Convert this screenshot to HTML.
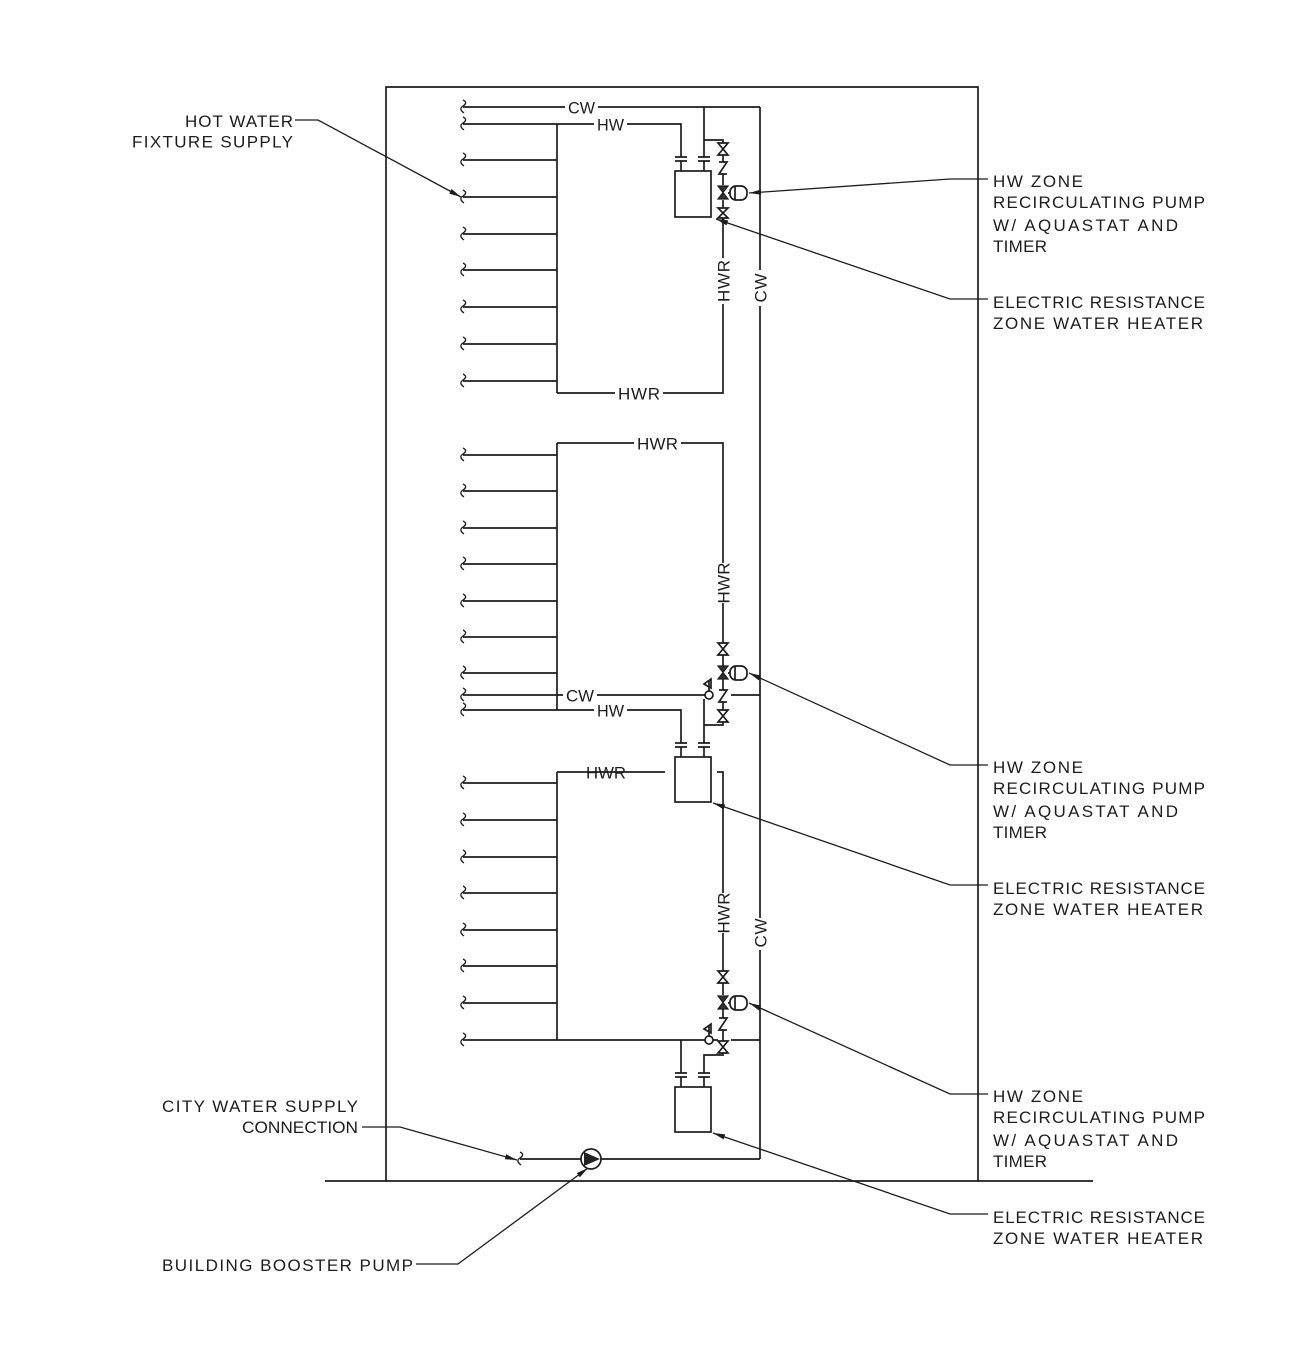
<!DOCTYPE html>
<html><head><meta charset="utf-8">
<style>
html,body{margin:0;padding:0;background:#fff;}
svg{display:block;}
.t{font-family:"Liberation Sans",Arial,sans-serif;font-size:17px;fill:#1c1c1c;}
.p{fill:none;stroke:#1c1c1c;stroke-width:1.7;}
.l{fill:none;stroke:#1c1c1c;stroke-width:1.3;}
</style></head>
<body>
<svg width="1304" height="1361" viewBox="0 0 1304 1361" xmlns="http://www.w3.org/2000/svg">
<defs>
<marker id="ah" markerUnits="userSpaceOnUse" markerWidth="16" markerHeight="10" viewBox="-1 -5 16 10" refX="0" refY="0" orient="auto" overflow="visible">
<path d="M0,0 L12,-2.6 L12,2.6 Z" fill="#1c1c1c"/>
</marker>
<path id="sq" d="M1,-7 c4,2 3,4 0,6 c-3,2 -3,4 1,7" fill="none" stroke="#1c1c1c" stroke-width="1.3"/>
</defs>
<rect x="0" y="0" width="1304" height="1361" fill="#fff"/>

<!-- building outline & ground -->
<path class="p" d="M386,1181 V87 H978 V1181" stroke-width="1.8"/>
<path class="p" d="M325,1181 H1093" stroke-width="1.8"/>

<!-- ================= TOP ZONE ================= -->
<path class="p" d="M463,107 H565 M598,107 H760
 M463,124 H594 M627,124 H681 V157
 M557,124 V393
 M463,160H557 M463,197H557 M463,234H557 M463,270H557 M463,307H557 M463,344H557 M463,381H557
 M557,393 H615 M663,393 H723 V304 M723,258 V221
 M704,107 V157 M704,140 H723 V143
 M723,155 V162 M723,174 V185 M723,200 V208 M723,218 V221
 M760,107 V270 M760,306 V918 M760,950 V1159"/>
<!-- flanges top heater -->
<path class="p" d="M675,157 H687 M675,161 H687 M681,161 V171 M698,157 H710 M698,161 H710 M704,161 V171"/>
<rect class="p" x="675" y="171" width="36" height="46"/>
<!-- valves top -->
<path class="p" d="M718,143 L728,143 L718,155 L728,155 Z"/>
<path class="p" d="M719,162 H727 L719,174 H727"/>
<path d="M718,186 L728,186 L718,199 L728,199 Z" fill="#333" stroke="#1c1c1c" stroke-width="1.2"/>
<rect class="p" x="730" y="186" width="17" height="14" rx="6"/>
<path class="p" d="M728,193 H730 M735,186 V200"/>
<path class="p" d="M718,208 L728,208 L718,218 L728,218 Z"/>
<circle cx="723" cy="221" r="2.2" fill="#1c1c1c"/>

<use href="#sq" x="462" y="107"/><use href="#sq" x="462" y="124"/>
<use href="#sq" x="462" y="160"/><use href="#sq" x="462" y="197"/><use href="#sq" x="462" y="234"/>
<use href="#sq" x="462" y="270"/><use href="#sq" x="462" y="307"/><use href="#sq" x="462" y="344"/><use href="#sq" x="462" y="381"/>

<text class="t" x="568" y="113.5" textLength="27" lengthAdjust="spacingAndGlyphs">CW</text>
<text class="t" x="597" y="130.5" textLength="27" lengthAdjust="spacingAndGlyphs">HW</text>
<text class="t" x="618" y="399.5" textLength="42" lengthAdjust="spacing">HWR</text>
<text class="t" transform="translate(723,281) rotate(-90)" x="0" y="6.5" text-anchor="middle" textLength="42" lengthAdjust="spacing">HWR</text>
<text class="t" transform="translate(760,288) rotate(-90)" x="0" y="6.5" text-anchor="middle" textLength="29" lengthAdjust="spacing">CW</text>

<!-- ================= MIDDLE ZONE ================= -->
<path class="p" d="M557,443 H634 M681,443 H723 V563 M723,603 V643
 M557,443 V710
 M463,455H557 M463,491H557 M463,528H557 M463,564H557 M463,601H557 M463,637H557 M463,673H557
 M463,695 H563 M597,695 H705 M731,695 H760
 M463,710 H594 M627,710 H681 V743
 M704,699 V743 M704,725 H723 V722
 M723,655 V666 M723,678 V690 M723,702 V710"/>
<circle class="p" cx="709" cy="695" r="4"/>
<path class="p" d="M709,691 V680 M711,679 L711,688 L704,684 Z" stroke-width="1.2"/>
<path class="p" d="M718,643 L728,643 L718,655 L728,655 Z"/>
<path d="M718,666 L728,666 L718,679 L728,679 Z" fill="#333" stroke="#1c1c1c" stroke-width="1.2"/>
<rect class="p" x="730" y="666" width="17" height="14" rx="6"/>
<path class="p" d="M728,673 H730 M735,666 V680"/>
<path class="p" d="M719,690 H727 L719,702 H727"/>
<path class="p" d="M718,710 L728,710 L718,722 L728,722 Z"/>
<!-- middle heater -->
<path class="p" d="M675,743 H687 M675,747 H687 M681,747 V757 M698,743 H710 M698,747 H710 M704,747 V757"/>
<rect class="p" x="675" y="757" width="36" height="45"/>
<path class="p" d="M557,772 H665 M717,772 H723 V893 M723,933 V971"/>

<use href="#sq" x="462" y="455"/><use href="#sq" x="462" y="491"/><use href="#sq" x="462" y="528"/>
<use href="#sq" x="462" y="564"/><use href="#sq" x="462" y="601"/><use href="#sq" x="462" y="637"/><use href="#sq" x="462" y="673"/>
<use href="#sq" x="462" y="695"/><use href="#sq" x="462" y="710"/>

<text class="t" x="637" y="449.5" textLength="41" lengthAdjust="spacing">HWR</text>
<text class="t" transform="translate(723,583) rotate(-90)" x="0" y="6.5" text-anchor="middle" textLength="41" lengthAdjust="spacing">HWR</text>
<text class="t" x="566" y="701.5" textLength="28" lengthAdjust="spacingAndGlyphs">CW</text>
<text class="t" x="597" y="716.5" textLength="27" lengthAdjust="spacingAndGlyphs">HW</text>
<text class="t" x="586" y="778.5" textLength="40" lengthAdjust="spacingAndGlyphs">HWR</text>

<!-- ================= BOTTOM ZONE ================= -->
<path class="p" d="M557,772 V1040
 M463,783H557 M463,820H557 M463,857H557 M463,893H557 M463,930H557 M463,966H557 M463,1003H557
 M463,1040 H705 M713,1040 H718 M731,1040 H760
 M723,983 V995 M723,1009 V1018 M723,1030 V1041
 M681,1040 V1073 M723,1053 V1055 H704 V1073"/>
<circle class="p" cx="709" cy="1040" r="4"/>
<path class="p" d="M709,1036 V1025 M711,1024 L711,1033 L704,1029 Z" stroke-width="1.2"/>
<path class="p" d="M718,971 L728,971 L718,983 L728,983 Z"/>
<path d="M718,996 L728,996 L718,1009 L728,1009 Z" fill="#333" stroke="#1c1c1c" stroke-width="1.2"/>
<rect class="p" x="730" y="996" width="17" height="14" rx="6"/>
<path class="p" d="M728,1003 H730 M735,996 V1010"/>
<path class="p" d="M719,1018 H727 L719,1030 H727"/>
<path class="p" d="M718,1041 L728,1041 L718,1053 L728,1053 Z"/>
<path class="p" d="M675,1073 H687 M675,1077 H687 M681,1077 V1087 M698,1073 H710 M698,1077 H710 M704,1077 V1087"/>
<rect class="p" x="675" y="1087" width="36" height="45"/>

<use href="#sq" x="462" y="783"/><use href="#sq" x="462" y="820"/><use href="#sq" x="462" y="857"/>
<use href="#sq" x="462" y="893"/><use href="#sq" x="462" y="930"/><use href="#sq" x="462" y="966"/>
<use href="#sq" x="462" y="1003"/><use href="#sq" x="462" y="1040"/>

<text class="t" transform="translate(723,913) rotate(-90)" x="0" y="6.5" text-anchor="middle" textLength="41" lengthAdjust="spacing">HWR</text>
<text class="t" transform="translate(760,933) rotate(-90)" x="0" y="6.5" text-anchor="middle" textLength="29" lengthAdjust="spacing">CW</text>

<!-- city water & booster pump -->
<use href="#sq" x="519" y="1159"/>
<path class="p" d="M520,1159 H581 M601,1159 H760"/>
<circle class="p" cx="591" cy="1159" r="10"/>
<path d="M584,1152 L584,1166 L600,1159 Z" fill="#222"/>

<!-- ================= LEADERS ================= -->
<g class="l">
<polyline points="461,197 318,120 295,120" marker-start="url(#ah)"/>
<polyline points="517,1160 400,1127 362,1127" marker-start="url(#ah)"/>
<polyline points="588,1168 458,1264 416,1264" marker-start="url(#ah)"/>

<polyline points="749,193 950,179 988,179" marker-start="url(#ah)"/>
<polyline points="716,219 950,299 988,299" marker-start="url(#ah)"/>
<polyline points="749,673 950,765 988,765" marker-start="url(#ah)"/>
<polyline points="713,803 950,885 988,885" marker-start="url(#ah)"/>
<polyline points="749,1003 950,1094 988,1094" marker-start="url(#ah)"/>
<polyline points="713,1133 950,1214 988,1214" marker-start="url(#ah)"/>
</g>

<!-- ================= LABELS ================= -->
<text class="t" x="185" y="127" textLength="108" lengthAdjust="spacing">HOT  WATER</text>
<text class="t" x="132" y="147.5" textLength="161" lengthAdjust="spacing">FIXTURE  SUPPLY</text>
<text class="t" x="162" y="1112" textLength="196" lengthAdjust="spacing">CITY  WATER  SUPPLY</text>
<text class="t" x="242" y="1133" textLength="116" lengthAdjust="spacingAndGlyphs">CONNECTION</text>
<text class="t" x="162" y="1271" textLength="251" lengthAdjust="spacing">BUILDING  BOOSTER  PUMP</text>

<g>
<text class="t" x="993" y="187" textLength="90" lengthAdjust="spacing">HW  ZONE</text>
<text class="t" x="993" y="208" textLength="212" lengthAdjust="spacing">RECIRCULATING  PUMP</text>
<text class="t" x="993" y="231" textLength="185" lengthAdjust="spacing">W/  AQUASTAT  AND</text>
<text class="t" x="993" y="252" textLength="54" lengthAdjust="spacing">TIMER</text>
<text class="t" x="993" y="308" textLength="212" lengthAdjust="spacing">ELECTRIC  RESISTANCE</text>
<text class="t" x="993" y="329" textLength="210" lengthAdjust="spacing">ZONE  WATER  HEATER</text>
</g>
<g>
<text class="t" x="993" y="773" textLength="90" lengthAdjust="spacing">HW  ZONE</text>
<text class="t" x="993" y="794" textLength="212" lengthAdjust="spacing">RECIRCULATING  PUMP</text>
<text class="t" x="993" y="817" textLength="185" lengthAdjust="spacing">W/  AQUASTAT  AND</text>
<text class="t" x="993" y="838" textLength="54" lengthAdjust="spacing">TIMER</text>
<text class="t" x="993" y="894" textLength="212" lengthAdjust="spacing">ELECTRIC  RESISTANCE</text>
<text class="t" x="993" y="915" textLength="210" lengthAdjust="spacing">ZONE  WATER  HEATER</text>
</g>
<g>
<text class="t" x="993" y="1102" textLength="90" lengthAdjust="spacing">HW  ZONE</text>
<text class="t" x="993" y="1123" textLength="212" lengthAdjust="spacing">RECIRCULATING  PUMP</text>
<text class="t" x="993" y="1146" textLength="185" lengthAdjust="spacing">W/  AQUASTAT  AND</text>
<text class="t" x="993" y="1167" textLength="54" lengthAdjust="spacing">TIMER</text>
<text class="t" x="993" y="1223" textLength="212" lengthAdjust="spacing">ELECTRIC  RESISTANCE</text>
<text class="t" x="993" y="1244" textLength="210" lengthAdjust="spacing">ZONE  WATER  HEATER</text>
</g>
</svg>
</body></html>
